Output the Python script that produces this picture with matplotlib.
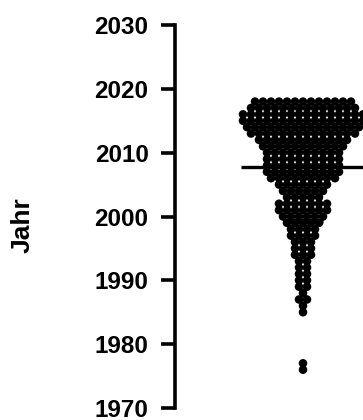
import numpy as np
import matplotlib.pyplot as plt

plt.rcParams['font.family'] = ['Liberation Sans', 'DejaVu Sans']
plt.rcParams['font.weight'] = 'bold'

# publication year -> number of entries
years = [2018, 2017, 2016, 2015, 2014, 2013, 2012, 2011, 2010, 2009,
         2008, 2007, 2006, 2005, 2004, 2003, 2002, 2001, 2000, 1999,
         1998, 1997, 1996, 1995, 1994, 1993, 1992, 1991, 1990, 1989,
         1988, 1987, 1986, 1985, 1977, 1976]
counts = [13, 14, 16, 16, 15, 14, 12, 11, 10, 10,
          10, 10, 9, 7, 6, 5, 7, 7, 6, 5,
          4, 4, 3, 3, 3, 2, 2, 2, 2, 2,
          1, 2, 1, 1, 1, 1]
yticks = [1970, 1980, 1990, 2000, 2010, 2020, 2030]
ylabel = 'Jahr'

# each year's dots sit side by side in one row, centred (GraphPad style)
step = 8.0
cx = 128
xs, ys = [], []
for yr, n in zip(years, counts):
    for i in range(n):
        xs.append(cx + (i - (n - 1) / 2) * step)
        ys.append(yr)
values = np.repeat(years, counts).astype(float)

fig = plt.figure(figsize=(3.63, 4.2), dpi=100)
ax = fig.add_axes([175 / 363, 12 / 420, 188 / 363, 383 / 420])
ax.set_xlim(0, 188)
ax.set_ylim(1970, 2030)

ax.scatter(xs, ys, s=38, color='black', edgecolors='none', zorder=3)

mean = values.mean()
sd = values.std(ddof=1)
ax.plot([cx - 62, cx + 62], [mean, mean], color='black', lw=2.4, zorder=4,
        solid_capstyle='butt')
for yv in (mean - sd, mean + sd):
    ax.plot([cx - 20, cx + 20], [yv, yv], color='black', lw=2.4, zorder=4,
            solid_capstyle='butt')

for s in ('top', 'right', 'bottom'):
    ax.spines[s].set_visible(False)
ax.spines['left'].set_linewidth(2.6)
ax.set_xticks([])
ax.set_yticks(yticks)
ax.tick_params(axis='y', length=10, width=2.6, pad=9, labelsize=17.5)
for lab in ax.get_yticklabels():
    lab.set_fontweight('bold')

fig.text(23 / 363, 1 - 225 / 420, ylabel, rotation=90, fontsize=19,
         fontweight='bold', ha='center', va='center')

fig.savefig('out.png', dpi=100)
